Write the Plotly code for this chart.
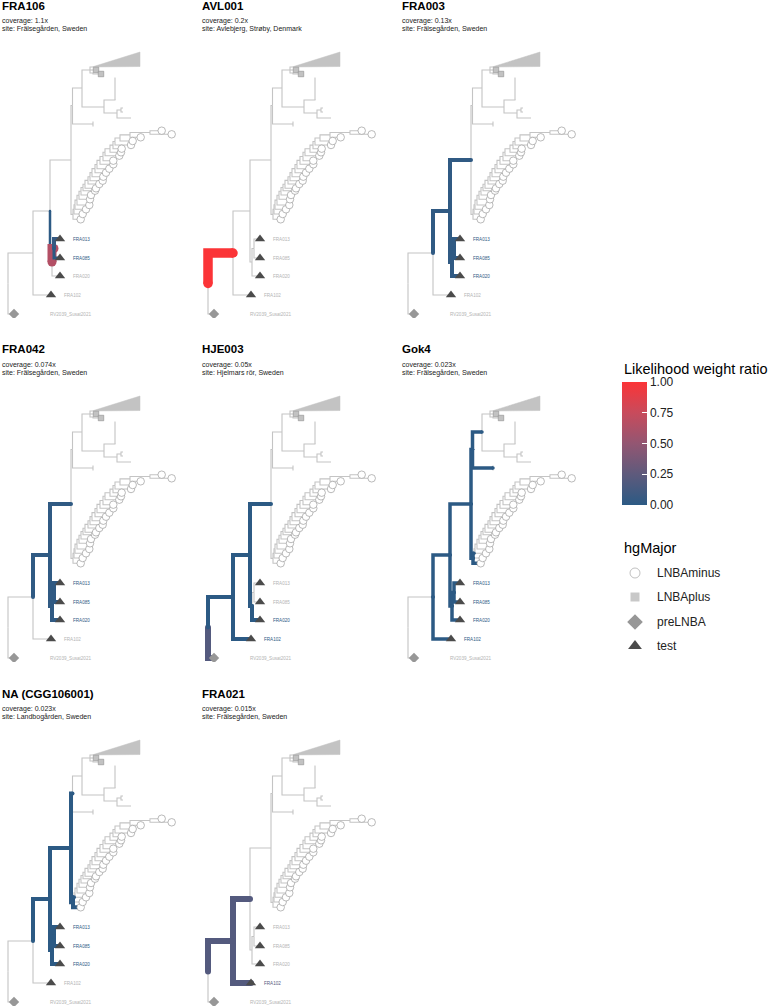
import plotly.graph_objects as go

W, H = 778, 1007
PW, PH = 195, 318          # panel size in px (tree units == px)
COL_STEP, ROW_STEP = 200, 344

# ---------------- panel data ----------------
panel_ids = ["FRA106", "AVL001", "FRA003", "FRA042", "HJE003", "Gok4", "NA (CGG106001)", "FRA021"]
panel_coverage = ["1.1x", "0.2x", "0.13x", "0.074x", "0.05x", "0.023x", "0.023x", "0.015x"]
panel_site = ["Frälsegården, Sweden", "Avlebjerg, Strøby, Denmark", "Frälsegården, Sweden",
              "Frälsegården, Sweden", "Hjelmars rör, Sweden", "Frälsegården, Sweden",
              "Landbogården, Sweden", "Frälsegården, Sweden"]

# highlighted edges (named by child node), their likelihood weight ratio and drawn size
hl_edges = [
    ["T", "T2", "FRA013", "FRA085"],
    ["N1"],
    ["N2", "N3", "T", "T2", "FRA013", "FRA085", "FRA020"],
    ["N2", "N3", "T", "T2", "FRA013", "FRA085", "FRA020"],
    ["RV", "N1", "N2", "N3", "T", "FRA020", "FRA102"],
    ["N2", "N3", "FRA102", "T", "T2", "FRA013", "FRA085", "FRA020", "Nup", "N4", "TK", "B0", "B1", "C0"],
    ["N2", "N3", "T", "T2", "FRA013", "FRA085", "FRA020", "Nup", "B0", "B1", "C0"],
    ["N1", "N2", "FRA102"],
]
hl_weight = [
    [0.0, 0.65, 0.05, 0.0],
    [1.0],
    [0.02] * 7,
    [0.02] * 7,
    [0.2, 0.0, 0.0, 0.0, 0.0, 0.0, 0.0],
    [0.0] * 14,
    [0.0] * 11,
    [0.2, 0.2, 0.2],
]
hl_size = [
    [2.5, 9.0, 4.0, 3.0],
    [9.5],
    [4.0] * 7,
    [4.0] * 7,
    [6.0, 4.0, 4.0, 4.0, 4.0, 4.0, 4.0],
    [3.5] * 14,
    [4.0] * 11,
    [6.0, 6.0, 6.0],
]

# ---------------- tree (shared by all panels) ----------------
node_name = ["R0", "RV", "N1", "FRA102", "N2", "T", "T2", "FRA013", "FRA085", "FRA020",
             "N3", "Nup", "N4", "N5", "TRI", "SQ1", "N5b", "SQ2", "N6", "N7", "N7a", "N7b",
             "N8", "N9", "N9a", "N9b", "N8t", "TK", "TKa", "TKb"]
node_parent = [None, "R0", "R0", "N1", "N1", "N2", "T", "T2", "T2", "T",
               "N2", "N3", "Nup", "N4", "N5", "N5", "N5", "N5b", "N4", "N6", "N7", "N7",
               "N6", "N8", "N9", "N9", "N8", "Nup", "TK", "TK"]
node_x = [8, 14, 33, 51, 50, 52, 54, 60, 60, 60,
          71, 72.5, 82, 90, 92, 96, 93, 101, 104, 115, 115.5, 115.5,
          117, 121, 123, 123, 131, 93, 93, 93]
node_y = [283.5, 314, 253, 295, 211, 262, 248.5, 239, 258, 276,
          160, 105.5, 88, 70, 67, 70, 73, 74, 107, 100, 78, 100,
          113, 110, 108, 112, 118, 124, 121.5, 126.5]
node_group = [None, "preLNBA", None, "test", None, None, None, "test", "test", "test",
              None, None, None, None, None, "LNBAplus", None, "LNBAplus", None, None, None, None,
              None, None, None, None, None, None, None, None]
tip_labels = {"FRA013": "FRA013", "FRA085": "FRA085", "FRA020": "FRA020",
              "FRA102": "FRA102", "RV": "RV2039_Susat2021"}
label_offset = {"FRA013": 11, "FRA085": 11, "FRA020": 11, "FRA102": 11, "RV": 34}
label_colored = {"FRA013", "FRA085", "FRA020", "FRA102"}

# collapsed LNBAplus clade (triangle)
tri_x = [92, 140, 140]
tri_y = [67, 52, 66.5]

# LNBAminus ladder clade: tips (bottom -> top) and backbone node depths
circ_x = [80.7, 82.7, 86, 89.3, 90, 91, 95, 96, 99.3, 102.7, 103.3, 106, 109.3, 113.3, 113.3,
          119.3, 121, 121.7, 131, 132.7, 140.7, 171.7, 161.7]
circ_y = [219.3, 214, 209.3, 205, 199.3, 195, 190.7, 188.3, 184, 180.7, 176.7, 172.7, 168.7,
          164.3, 160.7, 155.7, 152.3, 148.7, 145, 141, 137.3, 134.3, 130.7]
comb_x = [73, 74, 75, 77, 79, 81, 83, 85, 88, 90, 92, 95, 97, 100, 103, 105, 110, 113, 115,
          120, 130, 150]

# colour scale for likelihood weight ratio
cscale = [[0.0, "#2c5a84"], [0.25, "#5e5a7c"], [0.5, "#935672"], [0.75, "#c84b5c"], [1.0, "#fb3437"]]

# ---------------- build node table ----------------
nodes = {}
for n, p, x, y, g in zip(node_name, node_parent, node_x, node_y, node_group):
    nodes[n] = dict(parent=p, x=x, y=y, group=g)
nb = len(comb_x)
by = [0.0] * nb
by[nb - 1] = (circ_y[nb - 1] + circ_y[nb]) / 2
for k in range(nb - 2, -1, -1):
    by[k] = (circ_y[k] + by[k + 1]) / 2
for k in range(nb):
    nodes[f"B{k}"] = dict(parent="N3" if k == 0 else f"B{k-1}", x=comb_x[k], y=by[k], group=None)
for k in range(len(circ_x)):
    par = f"B{min(k, nb - 1)}"
    nodes[f"C{k}"] = dict(parent=par, x=circ_x[k], y=circ_y[k], group="LNBAminus")


def edge_path(child):
    c = nodes[child]
    p = nodes[c["parent"]]
    return [p["x"], p["x"], c["x"]], [p["y"], c["y"], c["y"]]


def interp_color(v):
    def h2r(h):
        return [int(h[i:i + 2], 16) for i in (1, 3, 5)]
    for (a, ca), (b, cb) in zip(cscale[:-1], cscale[1:]):
        if a <= v <= b:
            t = 0 if b == a else (v - a) / (b - a)
            r1, r2 = h2r(ca), h2r(cb)
            return "rgb(%d,%d,%d)" % tuple(round(r1[i] + (r2[i] - r1[i]) * t) for i in range(3))
    return cscale[-1][1]


GRAY = "#c4c4c4"
LABEL_GRAY = "#b4b4b4"
FONT = "Liberation Sans, Arial, sans-serif"

fig = go.Figure()
annotations = []
layout_axes = {}

for i, pid in enumerate(panel_ids):
    row, col = divmod(i, 3)
    ox, oy = col * COL_STEP, row * ROW_STEP
    ax = "" if i == 0 else str(i + 1)
    xa, ya = "x" + ax, "y" + ax
    layout_axes["xaxis" + ax] = dict(domain=[ox / W, (ox + PW) / W], range=[0, PW], visible=False,
                                     fixedrange=True, anchor=ya)
    layout_axes["yaxis" + ax] = dict(domain=[1 - (oy + PH) / H, 1 - oy / H], range=[PH, 0],
                                     visible=False, fixedrange=True, anchor=xa)

    # collapsed clade triangle
    fig.add_trace(go.Scatter(x=tri_x + [tri_x[0]], y=tri_y + [tri_y[0]], mode="lines", fill="toself",
                             fillcolor="#c3c3c3", line=dict(color="#c3c3c3", width=0.5),
                             xaxis=xa, yaxis=ya, hoverinfo="skip", showlegend=False))
    # gray edges
    gx, gy = [], []
    for n, nd in nodes.items():
        if nd["parent"] is None:
            continue
        ex, ey = edge_path(n)
        gx += ex + [None]
        gy += ey + [None]
    fig.add_trace(go.Scatter(x=gx, y=gy, mode="lines", line=dict(color=GRAY, width=1.1),
                             xaxis=xa, yaxis=ya, hoverinfo="skip", showlegend=False))
    # highlighted edges
    hl_col = {}
    for e, w, s in zip(hl_edges[i], hl_weight[i], hl_size[i]):
        ex, ey = edge_path(e)
        colr = interp_color(w)
        hl_col[e] = colr
        fig.add_trace(go.Scatter(x=ex, y=ey, mode="lines", line=dict(color=colr, width=s),
                                 xaxis=xa, yaxis=ya, hoverinfo="skip", showlegend=False))
        fig.add_trace(go.Scatter(x=[ex[0], ex[-1]], y=[ey[0], ey[-1]], mode="markers",
                                 marker=dict(color=colr, size=s, line=dict(width=0)),
                                 xaxis=xa, yaxis=ya, hoverinfo="skip", showlegend=False))
    # tip points
    styles = {
        "LNBAminus": dict(symbol="circle", size=7.5, color="white", line=dict(color="#9c9c9c", width=0.7)),
        "LNBAplus": dict(symbol="square", size=5.5, color="#c2c2c2", line=dict(color="#8f8f8f", width=0.6)),
        "preLNBA": dict(symbol="diamond", size=8, color="#979797", line=dict(color="#979797", width=0)),
        "test": dict(symbol="triangle-up", size=9, color="#4b4b4b", line=dict(color="#4b4b4b", width=0)),
    }
    for g, st in styles.items():
        px_ = [nd["x"] for nd in nodes.values() if nd["group"] == g]
        py_ = [nd["y"] for nd in nodes.values() if nd["group"] == g]
        fig.add_trace(go.Scatter(x=px_, y=py_, mode="markers", marker=st, xaxis=xa, yaxis=ya,
                                 hoverinfo="skip", showlegend=False))
    # tip labels
    for t, lab in tip_labels.items():
        nd = nodes[t]
        colr = hl_col.get(t, LABEL_GRAY) if t in label_colored else LABEL_GRAY
        annotations.append(dict(x=nd["x"] + label_offset[t], y=nd["y"], xref=xa, yref=ya, text=lab,
                                showarrow=False, xanchor="left", yanchor="middle",
                                font=dict(family=FONT, size=4.6, color=colr)))
    # titles
    annotations.append(dict(x=0, y=5.5, xref=xa, yref=ya, text="<b>%s</b>" % pid, showarrow=False,
                            xanchor="left", yanchor="middle", font=dict(family=FONT, size=11.5, color="black")))
    annotations.append(dict(x=0, y=21, xref=xa, yref=ya, text="coverage: %s" % panel_coverage[i],
                            showarrow=False, xanchor="left", yanchor="middle",
                            font=dict(family=FONT, size=7, color="#222")))
    annotations.append(dict(x=0, y=29, xref=xa, yref=ya, text="site: %s" % panel_site[i],
                            showarrow=False, xanchor="left", yanchor="middle",
                            font=dict(family=FONT, size=7, color="#222")))

# ---------------- legends (overlay axis in px) ----------------
layout_axes["xaxis9"] = dict(domain=[0, 1], range=[0, W], visible=False, fixedrange=True, anchor="y9")
layout_axes["yaxis9"] = dict(domain=[0, 1], range=[H, 0], visible=False, fixedrange=True, anchor="x9")

cb_vals = [0.0, 0.25, 0.5, 0.75, 1.0]
fig.add_trace(go.Scatter(x=[None], y=[None], mode="markers", xaxis="x9", yaxis="y9",
                         marker=dict(color=[0, 1], cmin=0, cmax=1, colorscale=cscale, showscale=True,
                                     colorbar=dict(x=622 / W, xanchor="left", xpad=0, ypad=0,
                                                   y=1 - 382 / H, yanchor="top", len=123, lenmode="pixels",
                                                   thickness=25, thicknessmode="pixels", outlinewidth=0,
                                                   ticks="inside", ticklen=5, tickcolor="white",
                                                   tickvals=cb_vals, ticktext=["%.2f" % v for v in cb_vals],
                                                   tickfont=dict(family=FONT, size=12, color="#222"))),
                         hoverinfo="skip", showlegend=False))
annotations.append(dict(x=622, y=369, xref="x9", yref="y9", text="Likelihood weight ratio", showarrow=False,
                        xanchor="left", yanchor="middle", font=dict(family=FONT, size=14.5, color="black")))
annotations.append(dict(x=622, y=548, xref="x9", yref="y9", text="hgMajor", showarrow=False,
                        xanchor="left", yanchor="middle", font=dict(family=FONT, size=14.5, color="black")))

leg_groups = ["LNBAminus", "LNBAplus", "preLNBA", "test"]
leg_styles = [
    dict(symbol="circle", size=10, color="white", line=dict(color="#b0b0b0", width=0.8)),
    dict(symbol="square", size=9, color="#c8c8c8", line=dict(color="#c8c8c8", width=0)),
    dict(symbol="diamond", size=12, color="#979797", line=dict(width=0)),
    dict(symbol="triangle-up", size=12, color="#4b4b4b", line=dict(width=0)),
]
leg_y = [573, 597, 622, 646]
for g, st, yy in zip(leg_groups, leg_styles, leg_y):
    fig.add_trace(go.Scatter(x=[635], y=[yy], mode="markers", marker=st, xaxis="x9", yaxis="y9",
                             hoverinfo="skip", showlegend=False))
    annotations.append(dict(x=655, y=yy, xref="x9", yref="y9", text=g, showarrow=False,
                            xanchor="left", yanchor="middle", font=dict(family=FONT, size=12, color="#222")))

fig.update_layout(width=W, height=H, margin=dict(l=0, r=0, t=0, b=0), paper_bgcolor="white",
                  plot_bgcolor="rgba(0,0,0,0)", showlegend=False, annotations=annotations, **layout_axes)
fig.write_html("out.html", config={"displayModeBar": False},
               post_script="document.body.style.margin='0px';document.body.style.overflow='hidden';")
